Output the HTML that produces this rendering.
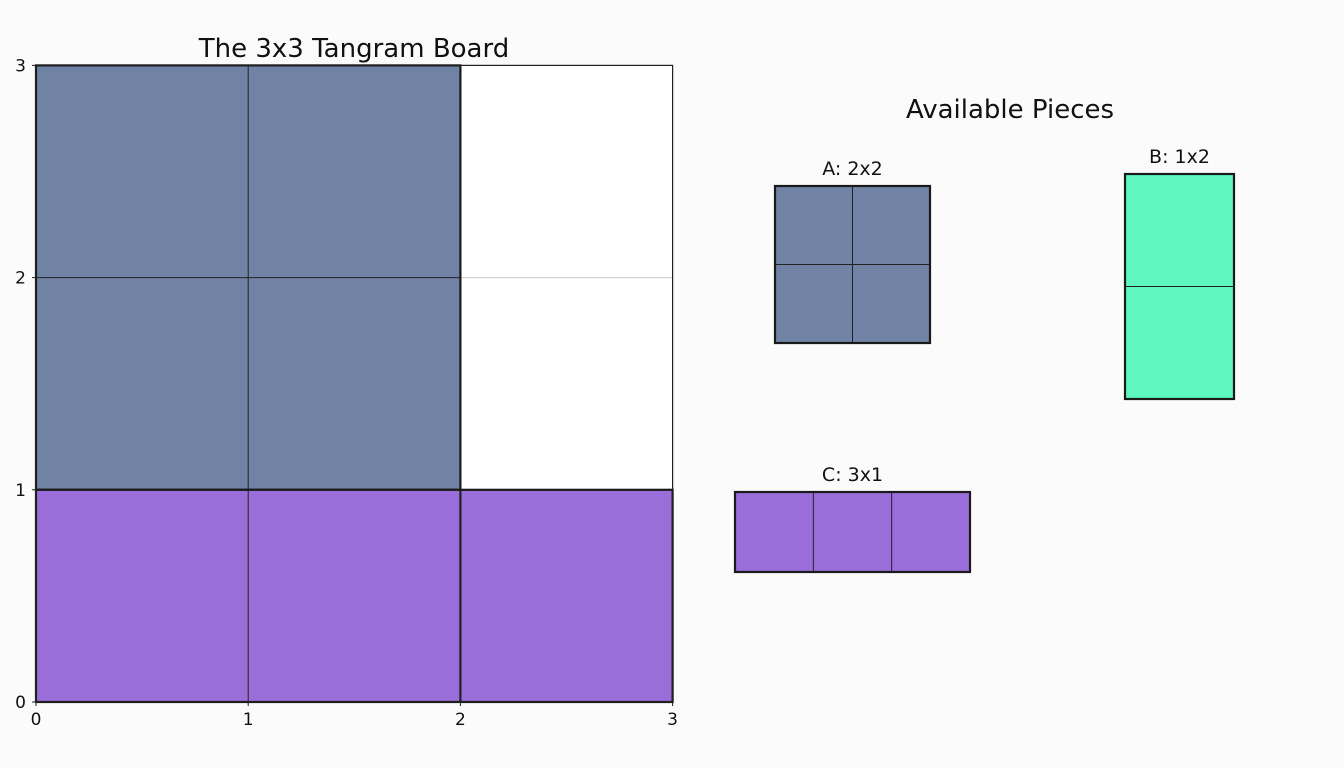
<!DOCTYPE html>
<html><head><meta charset="utf-8"><style>
body{margin:0;background:#fbfbfb;font-family:"Liberation Sans","DejaVu Sans",sans-serif}
svg{display:block}
</style></head><body>
<svg id="c" width="1344" height="768" font-family="DejaVu Sans, Liberation Sans, sans-serif"></svg>
<script>
const boardPieces=[{name:"piece-a-on-board",x:0,y:1,w:2,h:2,color:"#7083a5"},{name:"piece-c-on-board",x:0,y:0,w:3,h:1,color:"#9a6ed8"}];
const ticks=[0,1,2,3];
const pieceLabels=["A: 2x2","B: 1x2","C: 3x1"];
const pieceW=[2,1,3];
const pieceH=[2,2,1];
const pieceColors=["#7083a5","#5ef7c0","#9a6ed8"];
const NS="http://www.w3.org/2000/svg";
const svg=document.getElementById('c');
function el(t,a,p){const e=document.createElementNS(NS,t);for(const k in a)e.setAttribute(k,a[k]);(p||svg).appendChild(e);return e;}
const X0=36,Y0=702,U=212.2;
const sx=v=>X0+v*U, sy=v=>Y0-v*U;
let e=el('rect',{x:sx(0),y:sy(3),width:3*U,height:3*U,fill:'#fff'});

for(const t of ticks){el('line',{x1:sx(t),y1:sy(0),x2:sx(t),y2:sy(3),stroke:'#ccc','stroke-width':1});el('line',{x1:sx(0),y1:sy(t),x2:sx(3),y2:sy(t),stroke:'#ccc','stroke-width':1});}
boardPieces.forEach(p=>{
 const g=el('g',{});
 
 el('rect',{x:sx(p.x),y:sy(p.y+p.h),width:p.w*U,height:p.h*U,fill:p.color},g);
 for(let i=1;i<p.w;i++)el('line',{x1:sx(p.x+i),y1:sy(p.y),x2:sx(p.x+i),y2:sy(p.y+p.h),stroke:'#222','stroke-width':(p.x+i)==2?2.2:1},g);
 for(let j=1;j<p.h;j++)el('line',{x1:sx(p.x),y1:sy(p.y+j),x2:sx(p.x+p.w),y2:sy(p.y+j),stroke:'#222','stroke-width':1},g);
 el('rect',{x:sx(p.x),y:sy(p.y+p.h),width:p.w*U,height:p.h*U,fill:'none',stroke:'#1a1a1a','stroke-width':2.2},g);
});
e=el('rect',{x:sx(0),y:sy(3),width:3*U,height:3*U,fill:'none',stroke:'#222','stroke-width':1.2});

ticks.forEach(t=>{
 el('line',{x1:sx(t),y1:Y0,x2:sx(t),y2:Y0+4,stroke:'#222'});
 let tx=el('text',{x:sx(t),y:Y0+23,'text-anchor':'middle','font-size':17,fill:'#111'});tx.textContent=t;
 
 el('line',{x1:X0-4,y1:sy(t),x2:X0,y2:sy(t),stroke:'#222'});
 let ty=el('text',{x:X0-10,y:sy(t)+6,'text-anchor':'end','font-size':17,fill:'#111'});ty.textContent=t;
 
});
e=el('text',{x:354,y:57,'text-anchor':'middle','font-size':26,fill:'#111'});e.textContent='The 3x3 Tangram Board';

e=el('text',{x:1010,y:118,'text-anchor':'middle','font-size':26,fill:'#111'});e.textContent='Available Pieces';

const PU=77.5;
const pieceOrigins=[[775,186],[1125,174],[735,492]];
pieceLabels.forEach((lab,i)=>{
 const [ox,oy]=pieceOrigins[i];const w=i==1?109:(i==2?235:155),h=i==1?225:(i==2?80:157);
 const cw=w/pieceW[i],ch=h/pieceH[i];
 const g=el('g',{});
 
 el('rect',{x:ox,y:oy,width:w,height:h,fill:pieceColors[i]},g);
 for(let k=1;k<pieceW[i];k++)el('line',{x1:ox+k*cw,y1:oy,x2:ox+k*cw,y2:oy+h,stroke:'#222','stroke-width':1},g);
 for(let k=1;k<pieceH[i];k++)el('line',{x1:ox,y1:oy+k*ch,x2:ox+w,y2:oy+k*ch,stroke:'#222','stroke-width':1},g);
 el('rect',{x:ox,y:oy,width:w,height:h,fill:'none',stroke:'#1a1a1a','stroke-width':2.2},g);
 const t=el('text',{x:ox+w/2,y:oy-11,'text-anchor':'middle','font-size':19,fill:'#111'},g);t.textContent=lab;
});
</script>
</body></html>
